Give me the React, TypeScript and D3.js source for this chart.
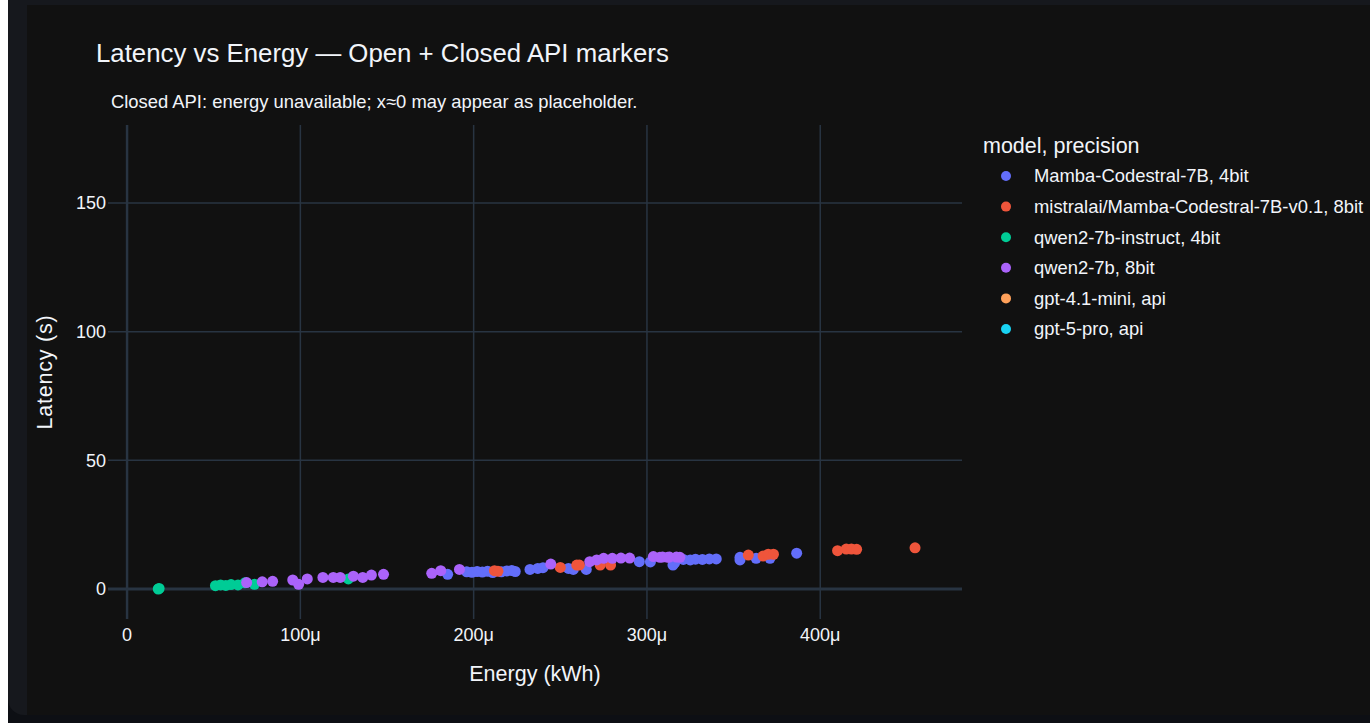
import React from "react";
import * as d3 from "d3";

// ---- data (energy in kWh, latency in s) ----
const seriesNames = [
  "Mamba-Codestral-7B, 4bit",
  "mistralai/Mamba-Codestral-7B-v0.1, 8bit",
  "qwen2-7b-instruct, 4bit",
  "qwen2-7b, 8bit",
  "gpt-4.1-mini, api",
  "gpt-5-pro, api",
];
const seriesColors = ["#636efa", "#EF553B", "#00cc96", "#ab63fa", "#FFA15A", "#19d3f3"];

const mambaX = [185, 196, 199, 202, 205, 208, 211, 216, 219, 222, 224, 232.5, 237, 240, 254.7, 257.5, 265, 295.6, 302, 315, 316, 321, 325, 328, 332, 336, 340, 353.7, 353.7, 363, 371, 386.4];
const mambaY = [5.7, 6.7, 6.5, 6.8, 6.6, 6.9, 6.4, 6.7, 7.0, 7.2, 6.8, 7.6, 8.0, 8.3, 8.0, 7.6, 7.6, 10.6, 10.5, 9.3, 10.2, 11.5, 11.3, 11.6, 11.5, 11.7, 11.7, 12.3, 11.3, 11.9, 11.9, 13.9];

const mistralX = [212, 214, 250, 259.5, 261, 273, 279, 358.5, 367, 370, 373, 410, 415, 418, 421, 454.7];
const mistralY = [7.1, 6.9, 8.4, 9.3, 9.3, 9.3, 9.3, 13.2, 12.8, 13.5, 13.5, 14.9, 15.5, 15.5, 15.4, 16.0];

const qwenInstructX = [18, 18.5, 51, 54, 57, 60, 64, 68, 73.5, 127.7];
const qwenInstructY = [0, 0.2, 1.3, 1.6, 1.4, 1.7, 1.6, 2.4, 1.8, 3.9];

const qwen8X = [69, 78, 84, 95.6, 99, 104, 113, 119, 123, 130.6, 136, 141, 148, 175.8, 181, 191.8, 244.5, 267, 271, 275, 280, 285, 290, 303.7, 309, 313, 317, 307.5, 312, 319];
const qwen8Y = [2.5, 2.8, 3.0, 3.5, 1.8, 3.9, 4.5, 4.5, 4.5, 5.0, 4.5, 5.4, 5.7, 6.1, 7.1, 7.6, 9.7, 10.6, 11.3, 11.9, 11.9, 12.0, 12.0, 12.6, 12.4, 12.4, 12.4, 12.3, 12.3, 12.3];

const gptMiniX: number[] = [];
const gptMiniY: number[] = [];
const gpt5X: number[] = [];
const gpt5Y: number[] = [];

const seriesX = [mambaX, mistralX, qwenInstructX, qwen8X, gptMiniX, gpt5X];
const seriesY = [mambaY, mistralY, qwenInstructY, qwen8Y, gptMiniY, gpt5Y];

const xTicks = [0, 100e-6, 200e-6, 300e-6, 400e-6];
const yTicks = [0, 50, 100, 150];

const FONT = "'Liberation Sans', Arial, sans-serif";
const TXT = "#f2f5fa";
const GRID = "#283442";

export default function App() {
  const left = 108, right = 962, top = 125, bottom = 619;
  const x = d3.scaleLinear().domain([-11e-6, 481.8e-6]).range([left, right]);
  const y = d3.scaleLinear().domain([-11.66, 180.3]).range([bottom, top]);
  const fmt = (v: number) => (v === 0 ? "0" : `${Math.round(v * 1e6)}μ`);

  return (
    <div style={{ position: "fixed", left: 0, top: 0, width: 1370, height: 723, background: "#fff" }}>
      <svg width={1370} height={723} style={{ display: "block" }}>
        <rect x={0} y={0} width={1370} height={723} fill="#ffffff" />
        <rect x={8} y={5} width={1362} height={718} fill="#0d0f14" />
        <rect x={8} y={-20} width={1400} height={735} rx={16} fill="#16181d" />
        <rect x={27} y={5} width={1343} height={710} fill="#111111" />

        {/* grid */}
        {xTicks.map((t, i) => (
          <line key={"gx" + i} x1={x(t)} x2={x(t)} y1={top} y2={bottom} stroke={GRID} strokeWidth={t === 0 ? 2.5 : 1.5} />
        ))}
        {yTicks.map((t, i) => (
          <line key={"gy" + i} x1={left} x2={right} y1={y(t)} y2={y(t)} stroke={GRID} strokeWidth={t === 0 ? 3 : 1.5} />
        ))}

        {/* points */}
        {seriesX.map((xs, si) =>
          xs.map((xv, i) => (
            <circle key={si + "-" + i} cx={x(xv * 1e-6)} cy={y(seriesY[si][i])} r={5.5} fill={seriesColors[si]} />
          ))
        )}

        {/* tick labels */}
        {xTicks.map((t, i) => (
          <text key={"tx" + i} x={x(t)} y={641} textAnchor="middle" fill={TXT} fontFamily={FONT} fontSize={18}>
            {fmt(t)}
          </text>
        ))}
        {yTicks.map((t, i) => (
          <text key={"ty" + i} x={106} y={y(t)} dy="0.35em" textAnchor="end" fill={TXT} fontFamily={FONT} fontSize={18}>
            {t}
          </text>
        ))}

        {/* axis titles */}
        <text x={(left + right) / 2} y={681} textAnchor="middle" fill={TXT} fontFamily={FONT} fontSize={21.5}>
          Energy (kWh)
        </text>
        <text transform={`translate(52,${(top + bottom) / 2}) rotate(-90)`} textAnchor="middle" fill={TXT} fontFamily={FONT} fontSize={21.5} letterSpacing={0.8}>
          Latency (s)
        </text>

        {/* titles */}
        <text x={96} y={62} fill={TXT} fontFamily={FONT} fontSize={25.8}>
          Latency vs Energy — Open + Closed API markers
        </text>
        <text x={111} y={108} fill={TXT} fontFamily={FONT} fontSize={18.4}>
          Closed API: energy unavailable; x≈0 may appear as placeholder.
        </text>

        {/* legend */}
        <text x={983} y={153} fill={TXT} fontFamily={FONT} fontSize={21.5}>
          model, precision
        </text>
        {seriesNames.map((n, i) => (
          <g key={"lg" + i} transform={`translate(0,${176 + i * 30.6})`}>
            <circle cx={1006} cy={0} r={5} fill={seriesColors[i]} />
            <text x={1034} y={0} dy="0.35em" fill={TXT} fontFamily={FONT} fontSize={18.4}>
              {n}
            </text>
          </g>
        ))}
      </svg>
    </div>
  );
}
